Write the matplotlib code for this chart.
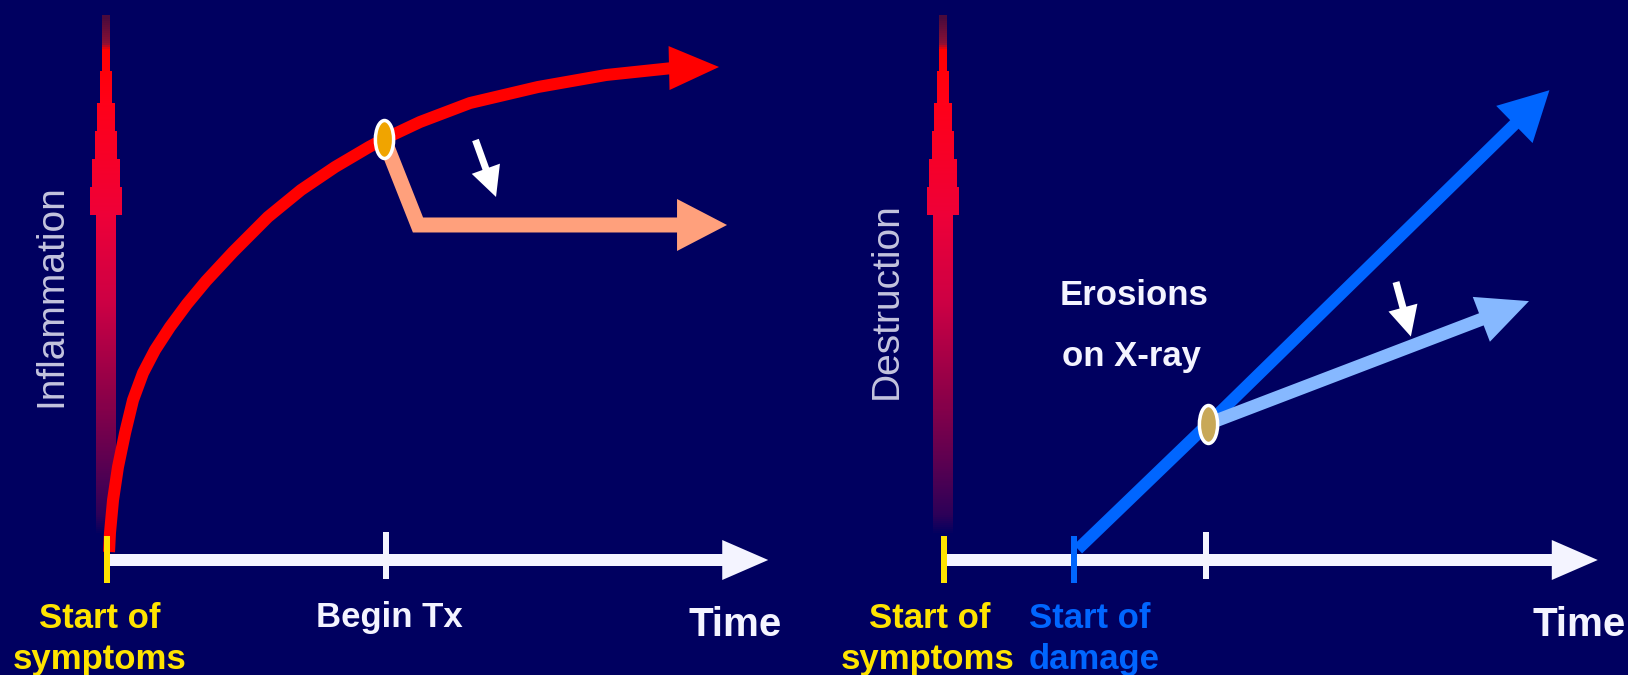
import numpy as np
import matplotlib
matplotlib.use("Agg")
import matplotlib.pyplot as plt
from matplotlib.patches import Polygon, Rectangle
from matplotlib.collections import PatchCollection
from matplotlib.transforms import IdentityTransform, Affine2D
from matplotlib.path import Path
from matplotlib.colors import LinearSegmentedColormap

W, H, DPI = 1628, 675, 100

# ---------------- data (time units / level units) ----------------
# Left panel: inflammation
infl_t = [0.022, 0.032, 0.065, 0.118, 0.194, 0.280, 0.387, 0.516, 0.677, 0.860, 1.065, 1.355,
          1.731, 2.086, 2.452, 2.817, 2.978, 3.366, 3.903, 4.634, 5.366, 6.086, 6.581]
infl_y = [0.147, 0.495, 1.101, 1.706, 2.330, 2.936, 3.431, 3.853, 4.275, 4.697, 5.119, 5.651,
          6.294, 6.789, 7.211, 7.578, 7.725, 8.037, 8.385, 8.679, 8.899, 9.028, 9.046]
begin_tx_index = 16
treated_infl_t = [2.978, 3.344, 6.667]
treated_infl_y = [7.725, 6.147, 6.147]
left_axis_end = 7.11
left_begin_tx = 3.00
left_hint_t = [3.962, 4.183]
left_hint_y = [7.706, 6.661]

# Right panel: destruction
damage_t = [1.44, 2.84, 6.51]
damage_y = [0.20, 2.50, 8.62]
treated_damage_t = [2.84, 6.29]
treated_damage_y = [2.50, 4.75]
right_axis_end = 7.03
right_start_damage = 1.40
right_begin_tx = 2.82
right_hint_t = [4.86, 5.02]
right_hint_y = [5.10, 4.10]

axis_top = 10.0

y_labels = ["Inflammation", "Destruction"]
left_tick_labels = ["Start of\nsymptoms", "Begin Tx"]
right_tick_labels = ["Start of\nsymptoms", "Start of\ndamage"]
annotation_text = ["Erosions", "on X-ray"]
time_label = "Time"

# ---------------- style ----------------
BG = "#000060"
RED = "#ff0000"
SALMON = "#ffa07c"
BLUE = "#0066ff"
LBLUE = "#86b8ff"
YELLOW = "#ffe400"
WHITE = "#f4f4ff"
GREYTXT = "#c4c4de"
FONT = "Liberation Sans"
UX, UY = 93.0, 54.5  # px per time unit / level unit


def px(v):
    return v * 72.0 / DPI


fig = plt.figure(figsize=(W / DPI, H / DPI), dpi=DPI, facecolor=BG)


def make_axes(left_px, right_px, origin_x):
    ax = fig.add_axes([left_px / W, 0, (right_px - left_px) / W, 1])
    ax.set_xlim((left_px - origin_x) / UX, (right_px - origin_x) / UX)
    ax.set_ylim((560 - H) / UY, 560 / UY)
    ax.axis("off")
    ax.patch.set_alpha(0)
    return ax


axL = make_axes(0, 814, 107)
axR = make_axes(814, 1628, 944)


def to_disp(ax, pts):
    return ax.transData.transform(np.asarray(pts, float))


def to_data(ax, pts):
    return ax.transData.inverted().transform(np.asarray(pts, float))


def arrow(ax, xs, ys, color, lw, head_len, head_hw, z=3, join="round"):
    pts = to_disp(ax, np.column_stack([xs, ys]))
    tip, prev = pts[-1], pts[-2]
    d = tip - prev
    u = d / np.hypot(*d)
    n = np.array([-u[1], u[0]])
    base = tip - u * head_len
    shaft_end = tip - u * head_len * 0.7
    shaft = to_data(ax, np.vstack([pts[:-1], shaft_end]))
    ax.plot(shaft[:, 0], shaft[:, 1], color=color, lw=px(lw),
            solid_capstyle="butt", solid_joinstyle=join, zorder=z)
    head = np.array([tip, base + n * head_hw, base - n * head_hw])
    ax.add_patch(Polygon(head, closed=True, transform=IdentityTransform(),
                         facecolor=color, edgecolor="none", zorder=z + 0.1,
                         clip_on=False))


spear_cmap = LinearSegmentedColormap.from_list("spear", [
    (0.0, "#4a0a3c"), (0.05, "#8a1034"), (0.062, "#ff0000"),
    (0.165, "#ff0018"), (0.383, "#ee0038"), (0.55, "#cc0044"),
    (0.723, "#900048"), (0.848, "#600050"), (0.963, "#2c0058"),
    (1.0, BG)])
spear_profile = [(14, 42, 4), (42, 70, 4), (70, 102, 6), (102, 130, 9),
                 (130, 157, 11), (157, 185, 14), (185, 213, 16), (213, 534, 10)]


def spear(ax):
    ox, oy = to_disp(ax, (0, 0))
    _, ty = to_disp(ax, (0, axis_top))
    top_py = H - ty
    cx = ox - 1
    rects, cols = [], []
    y0, y1 = spear_profile[0][0], spear_profile[-1][1]
    for p in range(int(y0), int(y1), 2):
        hw = next(h for a, b, h in spear_profile if a <= p < b)
        rects.append(Rectangle((cx - hw, H - (p + 2) - (top_py - 14)), 2 * hw, 2))
        cols.append(spear_cmap((p - y0) / (y1 - y0)))
    pc = PatchCollection(rects, facecolors=cols, edgecolors="none",
                         transform=IdentityTransform(), zorder=1)
    pc.set_clip_on(False)
    ax.add_collection(pc)


capsule = Path.unit_circle().transformed(Affine2D().scale(0.48, 1.0))


def tick(ax, t, color, lo, hi, z=5):
    ax.plot([t, t], [lo, hi], color=color, lw=px(6), solid_capstyle="butt", zorder=z)


for ax, end in ((axL, left_axis_end), (axR, right_axis_end)):
    spear(ax)
    arrow(ax, [0, end], [0, 0], WHITE, 12, 46, 20, z=2)

# Left panel
arrow(axL, infl_t, infl_y, RED, 12, 50, 22, z=3)
arrow(axL, treated_infl_t, treated_infl_y, SALMON, 15, 50, 26, z=2.5, join="miter")
tick(axL, 0, YELLOW, 0.44, -0.42)
tick(axL, left_begin_tx, WHITE, 0.51, -0.35)
arrow(axL, left_hint_t, left_hint_y, "white", 7, 30, 15, z=4)
axL.plot([infl_t[begin_tx_index]], [infl_y[begin_tx_index]], marker=capsule,
         markersize=px(38), mfc="#f0a400", mec="white", mew=2.5, zorder=6)

# Right panel
arrow(axR, damage_t, damage_y, BLUE, 12, 49, 26, z=3)
arrow(axR, treated_damage_t, treated_damage_y, LBLUE, 13, 51, 24, z=3.5)
tick(axR, 0, YELLOW, 0.44, -0.42)
tick(axR, right_start_damage, BLUE, 0.44, -0.42)
tick(axR, right_begin_tx, WHITE, 0.51, -0.35)
arrow(axR, right_hint_t, right_hint_y, "white", 7, 30, 15, z=4)
axR.plot([damage_t[1]], [damage_y[1]], marker=capsule, markersize=px(38),
         mfc="#c8a858", mec="white", mew=2.5, zorder=6)

# ---------------- text ----------------
def ftext(x, y, s, color, size=25, weight="bold", ha="center", va="baseline", rot=0):
    fig.text(x / W, 1 - y / H, s, color=color, fontsize=size, fontweight=weight,
             family=FONT, ha=ha, va=va, rotation=rot)


ftext(51, 296, y_labels[0], GREYTXT, size=28, weight="normal", va="center", rot=90)
ftext(887, 301, y_labels[1], GREYTXT, size=28, weight="normal", va="center", rot=90)

l1, l2 = left_tick_labels[0].split("\n")
ftext(100, 628, l1, YELLOW)
ftext(100, 669, l2, YELLOW)
ftext(389, 627, left_tick_labels[1], WHITE)
ftext(735, 636, time_label, WHITE, size=29)

r1, r2 = right_tick_labels[0].split("\n")
ftext(930, 628, r1, YELLOW)
ftext(928, 669, r2, YELLOW)
d1, d2 = right_tick_labels[1].split("\n")
ftext(1029, 628, d1, BLUE, ha="left")
ftext(1029, 669, d2, BLUE, ha="left")
ftext(1579, 636, time_label, WHITE, size=29)

ftext(1060, 305, annotation_text[0], WHITE, ha="left")
ftext(1062, 366, annotation_text[1], WHITE, ha="left")

fig.savefig("out.png", dpi=DPI, facecolor=BG)
